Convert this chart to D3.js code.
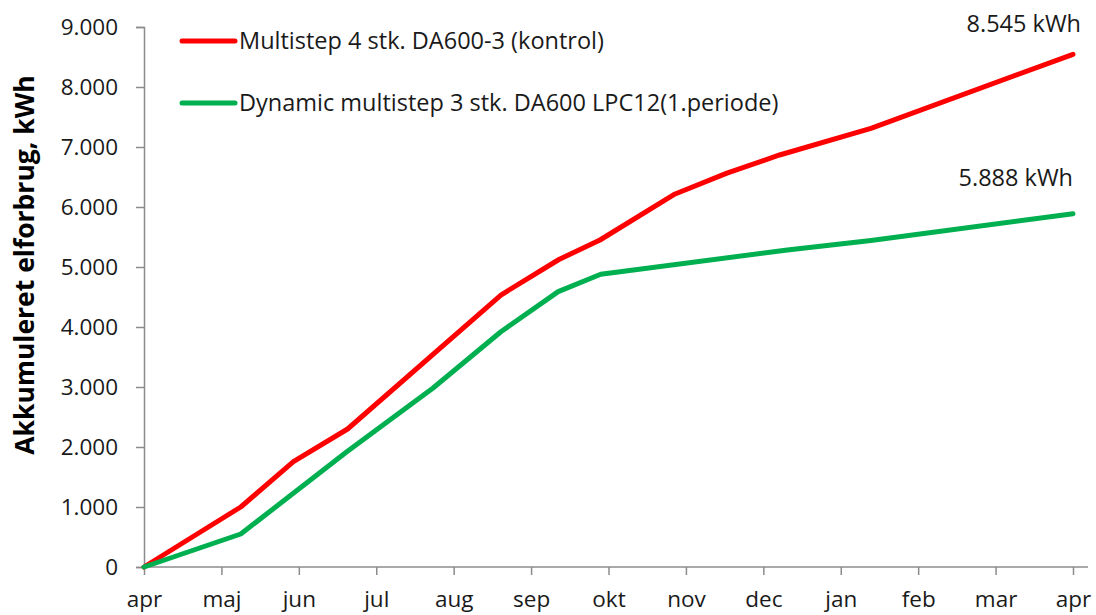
<!DOCTYPE html>
<html><head><meta charset="utf-8">
<script src="https://cdn.jsdelivr.net/npm/d3@7"></script>
<style>body{margin:0;background:#fff;} svg{display:block;font-family:"Open Sans",sans-serif;}</style>
</head><body>
<svg id="chart" width="1096" height="615"></svg>
<script>
const monthLabels = ["apr","maj","jun","jul","aug","sep","okt","nov","dec","jan","feb","mar","apr"];
const yTicks = [0,1000,2000,3000,4000,5000,6000,7000,8000,9000];
// x positions as fractional month index (0 = apr)
const redX = [0, 1.25, 1.93, 2.63, 4.61, 5.36, 5.89, 6.86, 7.53, 8.21, 9.39, 12];
const redY = [0, 1000, 1755, 2300, 4533, 5125, 5450, 6217, 6565, 6867, 7311, 8545];
const greenX = [0, 1.25, 2.62, 3.73, 4.61, 5.35, 5.90, 8.31, 9.39, 12];
const greenY = [0, 550, 1920, 2980, 3920, 4590, 4880, 5283, 5440, 5888];
const seriesNames = ["Multistep 4 stk. DA600-3 (kontrol)", "Dynamic multistep 3 stk. DA600 LPC12(1.periode)"];
const endLabels = ["8.545 kWh", "5.888 kWh"];
const yTitle = "Akkumuleret elforbrug, kWh";

const svg = d3.select("#chart");
const x = d3.scaleLinear().domain([0, 12]).range([144, 1073]);
const y = d3.scaleLinear().domain([0, 9000]).range([567, 27]);
const fmt = v => d3.format(",")(v).replace(/,/g, ".");

const axisColor = "#8c8c8c";
const textColor = "#1a1a1a";
// Y axis
const yAxis = svg.append("g").attr("transform", "translate(144,0)")
  .call(d3.axisLeft(y).tickValues(yTicks).tickFormat(fmt).tickSize(8).tickPadding(18));
yAxis.select(".domain").attr("stroke", axisColor).attr("stroke-width", 1.5);
yAxis.selectAll(".tick line").attr("stroke", axisColor).attr("stroke-width", 1.5);
yAxis.selectAll("text").attr("font-size", 22.5).attr("font-family", "Open Sans").attr("fill", textColor).attr("dy", "0.35em");

// X axis
const xAxis = svg.append("g").attr("transform", "translate(0,567)")
  .call(d3.axisBottom(x).tickValues(d3.range(13)).tickFormat(i => monthLabels[i]).tickSize(8).tickSizeOuter(0).tickPadding(16));
xAxis.select(".domain").attr("stroke", axisColor).attr("stroke-width", 1.5).attr("d", "M144,0H1088");
xAxis.selectAll(".tick line").attr("stroke", axisColor).attr("stroke-width", 1.5);
xAxis.selectAll("text").attr("font-size", 22.5).attr("font-family", "Open Sans").attr("fill", textColor);

// Lines
const line = d3.line().x(d => x(d[0])).y(d => y(d[1]));
const series = [
  {xs: redX, ys: redY, color: "#ff0000"},
  {xs: greenX, ys: greenY, color: "#00b050"}
];
series.forEach(s => {
  svg.append("path").datum(s.xs.map((v, i) => [v, s.ys[i]]))
    .attr("d", line).attr("fill", "none").attr("stroke", s.color)
    .attr("stroke-width", 5).attr("stroke-linejoin", "round").attr("stroke-linecap", "round");
});

// Legend
const legY = [41, 103];
series.forEach((s, i) => {
  svg.append("line").attr("x1", 182).attr("x2", 235).attr("y1", legY[i]).attr("y2", legY[i])
    .attr("stroke", s.color).attr("stroke-width", 5).attr("stroke-linecap", "round");
  svg.append("text").attr("x", 239).attr("y", legY[i]).attr("dy", "0.35em")
    .attr("font-size", 23.5).attr("fill", textColor).text(seriesNames[i]);
});

// End labels
svg.append("text").attr("x", 1081).attr("y", 32).attr("text-anchor", "end")
  .attr("font-size", 23.5).attr("fill", textColor).text(endLabels[0]);
svg.append("text").attr("x", 1073).attr("y", 186).attr("text-anchor", "end")
  .attr("font-size", 23.5).attr("fill", textColor).text(endLabels[1]);

// Y title
svg.append("text").attr("transform", "translate(34,265) rotate(-90)")
  .attr("text-anchor", "middle").attr("font-size", 26.5).attr("font-weight", "bold")
  .attr("fill", "#000").text(yTitle);
</script>
</body></html>
